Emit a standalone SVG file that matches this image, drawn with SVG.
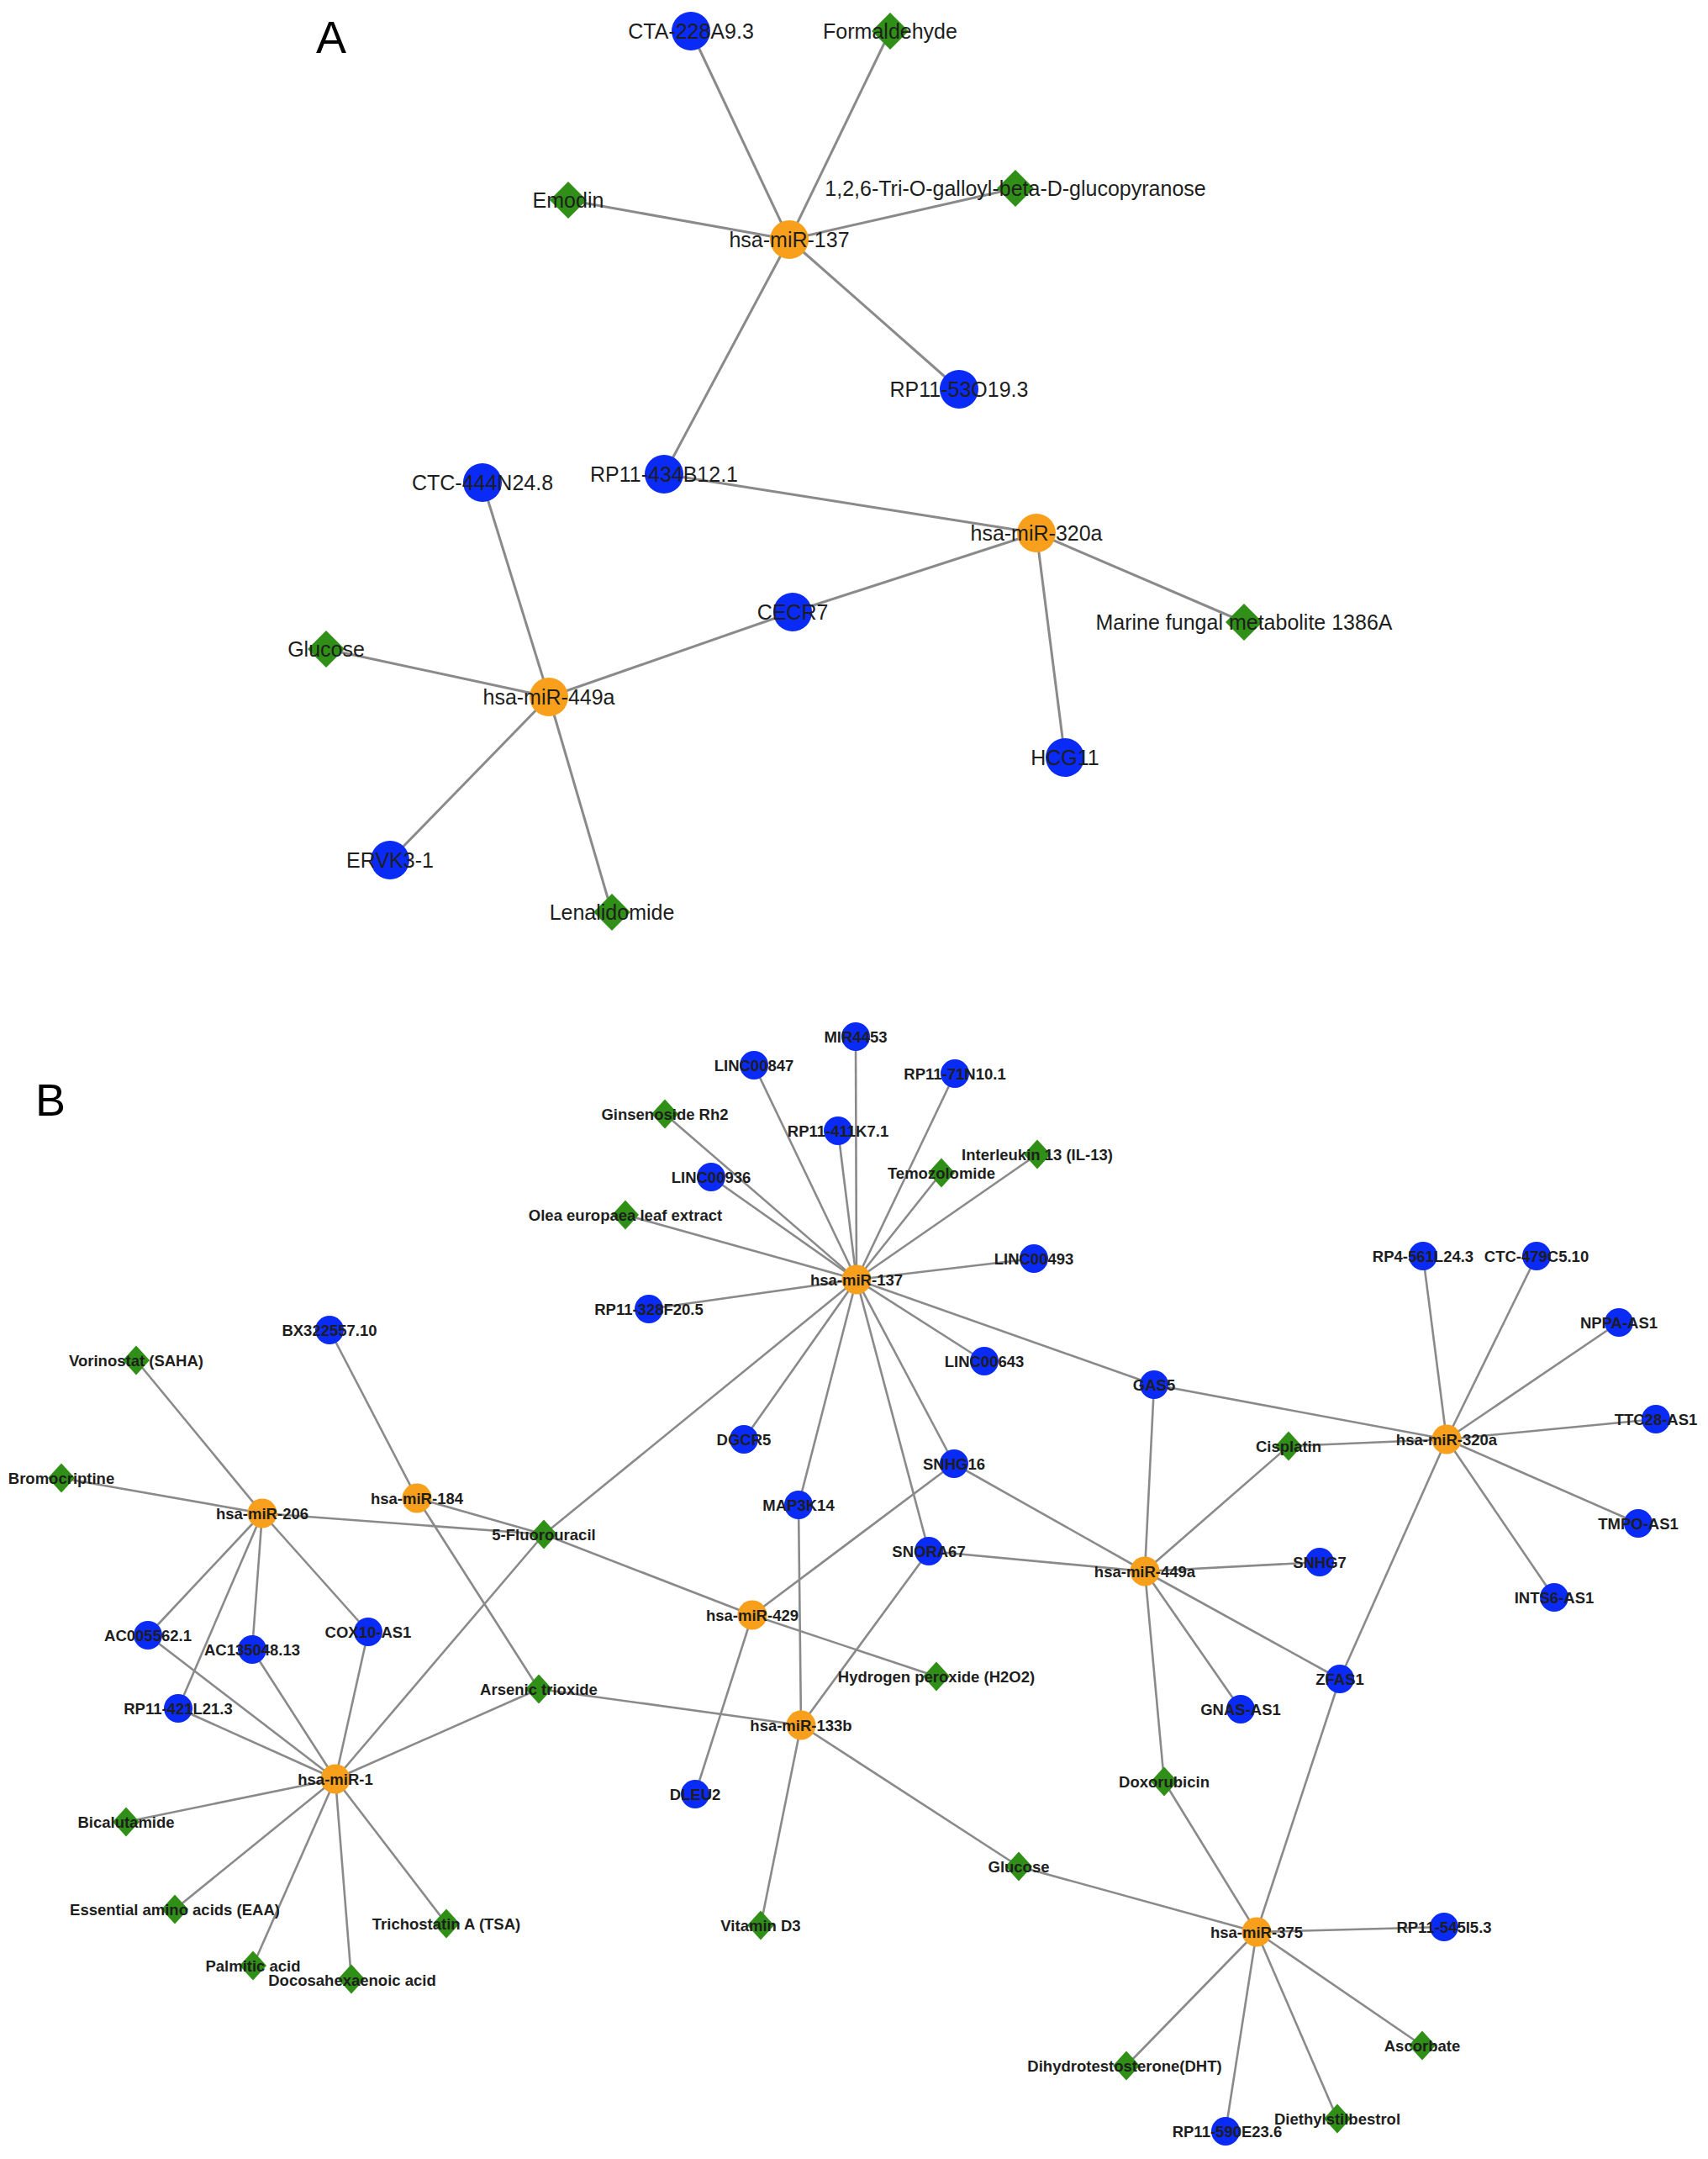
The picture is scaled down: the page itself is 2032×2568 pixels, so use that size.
<svg xmlns="http://www.w3.org/2000/svg" xmlns:xlink="http://www.w3.org/1999/xlink" width="2032" height="2568" viewBox="0 0 2032 2568">
<style>
.bg{fill:#ffffff}
.e{stroke:#8a8a8a;stroke-width:3;fill:none}
.eb{stroke:#8a8a8a;stroke-width:2.6;fill:none}
.lnc{fill:#0a2af5}
.mir{fill:#f8a01c}
.drug{fill:#2f8f17}
.ta{font-family:"Liberation Sans",Arial,sans-serif;font-size:25px;fill:#1e1e1e;text-anchor:middle;dominant-baseline:central}
.tb{font-family:"Liberation Sans",Arial,sans-serif;font-size:18.5px;font-weight:bold;fill:#1e1e1e;text-anchor:middle;dominant-baseline:central}
.panel{font-family:"Liberation Sans",Arial,sans-serif;font-size:54px;fill:#000}
</style>
<defs>
<path id="dA" d="M0,-22 L22,0 L0,22 L-22,0Z"/>
<path id="dB" d="M0,-17.5 L16,0 L0,17.5 L-16,0Z"/>
</defs>
<rect class="bg" x="0" y="0" width="2032" height="2568"/>
<text class="panel" x="376" y="63">A</text>
<text class="panel" x="42" y="1327">B</text>

<g id="connectors-A">
<line class="e" x1="939" y1="285" x2="822" y2="37"/>
<line class="e" x1="939" y1="285" x2="1059" y2="37"/>
<line class="e" x1="939" y1="285" x2="1208" y2="224"/>
<line class="e" x1="939" y1="285" x2="676" y2="238"/>
<line class="e" x1="939" y1="285" x2="1141" y2="463"/>
<line class="e" x1="939" y1="285" x2="790" y2="564"/>
<line class="e" x1="790" y1="564" x2="1233" y2="634"/>
<line class="e" x1="1233" y1="634" x2="943" y2="728"/>
<line class="e" x1="1233" y1="634" x2="1480" y2="740"/>
<line class="e" x1="1233" y1="634" x2="1267" y2="901"/>
<line class="e" x1="653" y1="829" x2="574" y2="574"/>
<line class="e" x1="653" y1="829" x2="388" y2="772"/>
<line class="e" x1="653" y1="829" x2="943" y2="728"/>
<line class="e" x1="653" y1="829" x2="464" y2="1023"/>
<line class="e" x1="653" y1="829" x2="728" y2="1085"/>
</g>

<g id="connectors-B">
<line class="eb" x1="1019" y1="1522" x2="1018" y2="1233"/>
<line class="eb" x1="1019" y1="1522" x2="897" y2="1267"/>
<line class="eb" x1="1019" y1="1522" x2="1136" y2="1277"/>
<line class="eb" x1="1019" y1="1522" x2="791" y2="1325"/>
<line class="eb" x1="1019" y1="1522" x2="997" y2="1345"/>
<line class="eb" x1="1019" y1="1522" x2="1234" y2="1373"/>
<line class="eb" x1="1019" y1="1522" x2="1120" y2="1395"/>
<line class="eb" x1="1019" y1="1522" x2="846" y2="1400"/>
<line class="eb" x1="1019" y1="1522" x2="744" y2="1445"/>
<line class="eb" x1="1019" y1="1522" x2="1230" y2="1497"/>
<line class="eb" x1="1019" y1="1522" x2="772" y2="1557"/>
<line class="eb" x1="1019" y1="1522" x2="1171" y2="1619"/>
<line class="eb" x1="1019" y1="1522" x2="1373" y2="1647"/>
<line class="eb" x1="1019" y1="1522" x2="885" y2="1712"/>
<line class="eb" x1="1019" y1="1522" x2="950" y2="1790"/>
<line class="eb" x1="1019" y1="1522" x2="1135" y2="1741"/>
<line class="eb" x1="1019" y1="1522" x2="1105" y2="1845"/>
<line class="eb" x1="1019" y1="1522" x2="647" y2="1825"/>
<line class="eb" x1="312" y1="1800" x2="162" y2="1618"/>
<line class="eb" x1="312" y1="1800" x2="73" y2="1758"/>
<line class="eb" x1="312" y1="1800" x2="647" y2="1825"/>
<line class="eb" x1="312" y1="1800" x2="176" y2="1945"/>
<line class="eb" x1="312" y1="1800" x2="300" y2="1962"/>
<line class="eb" x1="312" y1="1800" x2="212" y2="2032"/>
<line class="eb" x1="312" y1="1800" x2="438" y2="1941"/>
<line class="eb" x1="496" y1="1782" x2="392" y2="1582"/>
<line class="eb" x1="496" y1="1782" x2="647" y2="1825"/>
<line class="eb" x1="496" y1="1782" x2="641" y2="2009"/>
<line class="eb" x1="399" y1="2116" x2="176" y2="1945"/>
<line class="eb" x1="399" y1="2116" x2="300" y2="1962"/>
<line class="eb" x1="399" y1="2116" x2="438" y2="1941"/>
<line class="eb" x1="399" y1="2116" x2="212" y2="2032"/>
<line class="eb" x1="399" y1="2116" x2="647" y2="1825"/>
<line class="eb" x1="399" y1="2116" x2="641" y2="2009"/>
<line class="eb" x1="399" y1="2116" x2="150" y2="2167"/>
<line class="eb" x1="399" y1="2116" x2="208" y2="2271"/>
<line class="eb" x1="399" y1="2116" x2="301" y2="2338"/>
<line class="eb" x1="399" y1="2116" x2="418" y2="2354"/>
<line class="eb" x1="399" y1="2116" x2="531" y2="2288"/>
<line class="eb" x1="647" y1="1825" x2="895" y2="1921"/>
<line class="eb" x1="895" y1="1921" x2="1135" y2="1741"/>
<line class="eb" x1="895" y1="1921" x2="1114" y2="1994"/>
<line class="eb" x1="895" y1="1921" x2="827" y2="2134"/>
<line class="eb" x1="953" y1="2052" x2="950" y2="1790"/>
<line class="eb" x1="953" y1="2052" x2="1105" y2="1845"/>
<line class="eb" x1="953" y1="2052" x2="641" y2="2009"/>
<line class="eb" x1="953" y1="2052" x2="905" y2="2290"/>
<line class="eb" x1="953" y1="2052" x2="1212" y2="2220"/>
<line class="eb" x1="1212" y1="2220" x2="1495" y2="2298"/>
<line class="eb" x1="1362" y1="1869" x2="1373" y2="1647"/>
<line class="eb" x1="1362" y1="1869" x2="1533" y2="1720"/>
<line class="eb" x1="1362" y1="1869" x2="1135" y2="1741"/>
<line class="eb" x1="1362" y1="1869" x2="1105" y2="1845"/>
<line class="eb" x1="1362" y1="1869" x2="1570" y2="1858"/>
<line class="eb" x1="1362" y1="1869" x2="1594" y2="1997"/>
<line class="eb" x1="1362" y1="1869" x2="1476" y2="2033"/>
<line class="eb" x1="1362" y1="1869" x2="1385" y2="2119"/>
<line class="eb" x1="1721" y1="1712" x2="1373" y2="1647"/>
<line class="eb" x1="1721" y1="1712" x2="1533" y2="1720"/>
<line class="eb" x1="1721" y1="1712" x2="1693" y2="1494"/>
<line class="eb" x1="1721" y1="1712" x2="1828" y2="1494"/>
<line class="eb" x1="1721" y1="1712" x2="1926" y2="1573"/>
<line class="eb" x1="1721" y1="1712" x2="1970" y2="1688"/>
<line class="eb" x1="1721" y1="1712" x2="1949" y2="1812"/>
<line class="eb" x1="1721" y1="1712" x2="1849" y2="1900"/>
<line class="eb" x1="1721" y1="1712" x2="1594" y2="1997"/>
<line class="eb" x1="1495" y1="2298" x2="1594" y2="1997"/>
<line class="eb" x1="1495" y1="2298" x2="1385" y2="2119"/>
<line class="eb" x1="1495" y1="2298" x2="1718" y2="2292"/>
<line class="eb" x1="1495" y1="2298" x2="1692" y2="2433"/>
<line class="eb" x1="1495" y1="2298" x2="1340" y2="2457"/>
<line class="eb" x1="1495" y1="2298" x2="1458" y2="2535"/>
<line class="eb" x1="1495" y1="2298" x2="1591" y2="2520"/>
</g>

<g id="A-miR-137"><circle class="mir" cx="939" cy="285" r="23"/><text class="ta" x="939" y="285">hsa-miR-137</text></g>
<g id="A-CTA-228A9.3"><circle class="lnc" cx="822" cy="37" r="23"/><text class="ta" x="822" y="37">CTA-228A9.3</text></g>
<g id="A-Formaldehyde"><use xlink:href="#dA" class="drug" x="1059" y="37"/><text class="ta" x="1059" y="37">Formaldehyde</text></g>
<g id="A-TGG"><use xlink:href="#dA" class="drug" x="1208" y="224"/><text class="ta" x="1208" y="224">1,2,6-Tri-O-galloyl-beta-D-glucopyranose</text></g>
<g id="A-Emodin"><use xlink:href="#dA" class="drug" x="676" y="238"/><text class="ta" x="676" y="238">Emodin</text></g>
<g id="A-RP11-53O19.3"><circle class="lnc" cx="1141" cy="463" r="23"/><text class="ta" x="1141" y="463">RP11-53O19.3</text></g>
<g id="A-RP11-434B12.1"><circle class="lnc" cx="790" cy="564" r="23"/><text class="ta" x="790" y="564">RP11-434B12.1</text></g>
<g id="A-CTC-444N24.8"><circle class="lnc" cx="574" cy="574" r="23"/><text class="ta" x="574" y="574">CTC-444N24.8</text></g>
<g id="A-miR-320a"><circle class="mir" cx="1233" cy="634" r="23"/><text class="ta" x="1233" y="634">hsa-miR-320a</text></g>
<g id="A-CECR7"><circle class="lnc" cx="943" cy="728" r="23"/><text class="ta" x="943" y="728">CECR7</text></g>
<g id="A-Marine"><use xlink:href="#dA" class="drug" x="1480" y="740"/><text class="ta" x="1480" y="740">Marine fungal metabolite 1386A</text></g>
<g id="A-Glucose"><use xlink:href="#dA" class="drug" x="388" y="772"/><text class="ta" x="388" y="772">Glucose</text></g>
<g id="A-miR-449a"><circle class="mir" cx="653" cy="829" r="23"/><text class="ta" x="653" y="829">hsa-miR-449a</text></g>
<g id="A-HCG11"><circle class="lnc" cx="1267" cy="901" r="23"/><text class="ta" x="1267" y="901">HCG11</text></g>
<g id="A-ERVK3-1"><circle class="lnc" cx="464" cy="1023" r="23"/><text class="ta" x="464" y="1023">ERVK3-1</text></g>
<g id="A-Lenalidomide"><use xlink:href="#dA" class="drug" x="728" y="1085"/><text class="ta" x="728" y="1085">Lenalidomide</text></g>

<g id="B-MIR4453"><circle class="lnc" cx="1018" cy="1233" r="17"/><text class="tb" x="1018" y="1233">MIR4453</text></g>
<g id="B-LINC00847"><circle class="lnc" cx="897" cy="1267" r="17"/><text class="tb" x="897" y="1267">LINC00847</text></g>
<g id="B-RP11-71N10.1"><circle class="lnc" cx="1136" cy="1277" r="17"/><text class="tb" x="1136" y="1277">RP11-71N10.1</text></g>
<g id="B-Ginsenoside"><use xlink:href="#dB" class="drug" x="791" y="1325"/><text class="tb" x="791" y="1325">Ginsenoside Rh2</text></g>
<g id="B-RP11-411K7.1"><circle class="lnc" cx="997" cy="1345" r="17"/><text class="tb" x="997" y="1345">RP11-411K7.1</text></g>
<g id="B-IL13"><use xlink:href="#dB" class="drug" x="1234" y="1373"/><text class="tb" x="1234" y="1373">Interleukin 13 (IL-13)</text></g>
<g id="B-Temozolomide"><use xlink:href="#dB" class="drug" x="1120" y="1395"/><text class="tb" x="1120" y="1395">Temozolomide</text></g>
<g id="B-LINC00936"><circle class="lnc" cx="846" cy="1400" r="17"/><text class="tb" x="846" y="1400">LINC00936</text></g>
<g id="B-Olea"><use xlink:href="#dB" class="drug" x="744" y="1445"/><text class="tb" x="744" y="1445">Olea europaea leaf extract</text></g>
<g id="B-LINC00493"><circle class="lnc" cx="1230" cy="1497" r="17"/><text class="tb" x="1230" y="1497">LINC00493</text></g>
<g id="B-RP11-328F20.5"><circle class="lnc" cx="772" cy="1557" r="17"/><text class="tb" x="772" y="1557">RP11-328F20.5</text></g>
<g id="B-LINC00643"><circle class="lnc" cx="1171" cy="1619" r="17"/><text class="tb" x="1171" y="1619">LINC00643</text></g>
<g id="B-GAS5"><circle class="lnc" cx="1373" cy="1647" r="17"/><text class="tb" x="1373" y="1647">GAS5</text></g>
<g id="B-miR-137"><circle class="mir" cx="1019" cy="1522" r="17.5"/><text class="tb" x="1019" y="1522">hsa-miR-137</text></g>
<g id="B-BX322557.10"><circle class="lnc" cx="392" cy="1582" r="17"/><text class="tb" x="392" y="1582">BX322557.10</text></g>
<g id="B-Vorinostat"><use xlink:href="#dB" class="drug" x="162" y="1618"/><text class="tb" x="162" y="1618">Vorinostat (SAHA)</text></g>
<g id="B-Bromocriptine"><use xlink:href="#dB" class="drug" x="73" y="1758"/><text class="tb" x="73" y="1758">Bromocriptine</text></g>
<g id="B-miR-206"><circle class="mir" cx="312" cy="1800" r="17.5"/><text class="tb" x="312" y="1800">hsa-miR-206</text></g>
<g id="B-miR-184"><circle class="mir" cx="496" cy="1782" r="17.5"/><text class="tb" x="496" y="1782">hsa-miR-184</text></g>
<g id="B-5FU"><use xlink:href="#dB" class="drug" x="647" y="1825"/><text class="tb" x="647" y="1825">5-Fluorouracil</text></g>
<g id="B-AC005562.1"><circle class="lnc" cx="176" cy="1945" r="17"/><text class="tb" x="176" y="1945">AC005562.1</text></g>
<g id="B-AC135048.13"><circle class="lnc" cx="300" cy="1962" r="17"/><text class="tb" x="300" y="1962">AC135048.13</text></g>
<g id="B-COX10-AS1"><circle class="lnc" cx="438" cy="1941" r="17"/><text class="tb" x="438" y="1941">COX10-AS1</text></g>
<g id="B-RP11-421L21.3"><circle class="lnc" cx="212" cy="2032" r="17"/><text class="tb" x="212" y="2032">RP11-421L21.3</text></g>
<g id="B-Arsenic"><use xlink:href="#dB" class="drug" x="641" y="2009"/><text class="tb" x="641" y="2009">Arsenic trioxide</text></g>
<g id="B-miR-1"><circle class="mir" cx="399" cy="2116" r="17.5"/><text class="tb" x="399" y="2116">hsa-miR-1</text></g>
<g id="B-Bicalutamide"><use xlink:href="#dB" class="drug" x="150" y="2167"/><text class="tb" x="150" y="2167">Bicalutamide</text></g>
<g id="B-EAA"><use xlink:href="#dB" class="drug" x="208" y="2271"/><text class="tb" x="208" y="2271">Essential amino acids (EAA)</text></g>
<g id="B-TSA"><use xlink:href="#dB" class="drug" x="531" y="2288"/><text class="tb" x="531" y="2288">Trichostatin A (TSA)</text></g>
<g id="B-Palmitic"><use xlink:href="#dB" class="drug" x="301" y="2338"/><text class="tb" x="301" y="2338">Palmitic acid</text></g>
<g id="B-DHA"><use xlink:href="#dB" class="drug" x="418" y="2354"/><text class="tb" x="419" y="2355">Docosahexaenoic acid</text></g>
<g id="B-DGCR5"><circle class="lnc" cx="885" cy="1712" r="17"/><text class="tb" x="885" y="1712">DGCR5</text></g>
<g id="B-SNHG16"><circle class="lnc" cx="1135" cy="1741" r="17"/><text class="tb" x="1135" y="1741">SNHG16</text></g>
<g id="B-MAP3K14"><circle class="lnc" cx="950" cy="1790" r="17"/><text class="tb" x="950" y="1790">MAP3K14</text></g>
<g id="B-SNORA67"><circle class="lnc" cx="1105" cy="1845" r="17"/><text class="tb" x="1105" y="1845">SNORA67</text></g>
<g id="B-miR-429"><circle class="mir" cx="895" cy="1921" r="17.5"/><text class="tb" x="895" y="1921">hsa-miR-429</text></g>
<g id="B-H2O2"><use xlink:href="#dB" class="drug" x="1114" y="1994"/><text class="tb" x="1114" y="1994">Hydrogen peroxide (H2O2)</text></g>
<g id="B-miR-133b"><circle class="mir" cx="953" cy="2052" r="17.5"/><text class="tb" x="953" y="2052">hsa-miR-133b</text></g>
<g id="B-DLEU2"><circle class="lnc" cx="827" cy="2134" r="17"/><text class="tb" x="827" y="2134">DLEU2</text></g>
<g id="B-Glucose"><use xlink:href="#dB" class="drug" x="1212" y="2220"/><text class="tb" x="1212" y="2220">Glucose</text></g>
<g id="B-VitaminD3"><use xlink:href="#dB" class="drug" x="905" y="2290"/><text class="tb" x="905" y="2290">Vitamin D3</text></g>
<g id="B-Cisplatin"><use xlink:href="#dB" class="drug" x="1533" y="1720"/><text class="tb" x="1533" y="1720">Cisplatin</text></g>
<g id="B-miR-449a"><circle class="mir" cx="1362" cy="1869" r="17.5"/><text class="tb" x="1362" y="1869">hsa-miR-449a</text></g>
<g id="B-SNHG7"><circle class="lnc" cx="1570" cy="1858" r="17"/><text class="tb" x="1570" y="1858">SNHG7</text></g>
<g id="B-miR-320a"><circle class="mir" cx="1721" cy="1712" r="17.5"/><text class="tb" x="1721" y="1712">hsa-miR-320a</text></g>
<g id="B-RP4-561L24.3"><circle class="lnc" cx="1693" cy="1494" r="17"/><text class="tb" x="1693" y="1494">RP4-561L24.3</text></g>
<g id="B-CTC-479C5.10"><circle class="lnc" cx="1828" cy="1494" r="17"/><text class="tb" x="1828" y="1494">CTC-479C5.10</text></g>
<g id="B-NPPA-AS1"><circle class="lnc" cx="1926" cy="1573" r="17"/><text class="tb" x="1926" y="1573">NPPA-AS1</text></g>
<g id="B-TTC28-AS1"><circle class="lnc" cx="1970" cy="1688" r="17"/><text class="tb" x="1970" y="1688">TTC28-AS1</text></g>
<g id="B-TMPO-AS1"><circle class="lnc" cx="1949" cy="1812" r="17"/><text class="tb" x="1949" y="1812">TMPO-AS1</text></g>
<g id="B-INTS6-AS1"><circle class="lnc" cx="1849" cy="1900" r="17"/><text class="tb" x="1849" y="1900">INTS6-AS1</text></g>
<g id="B-ZFAS1"><circle class="lnc" cx="1594" cy="1997" r="17"/><text class="tb" x="1594" y="1997">ZFAS1</text></g>
<g id="B-GNAS-AS1"><circle class="lnc" cx="1476" cy="2033" r="17"/><text class="tb" x="1476" y="2033">GNAS-AS1</text></g>
<g id="B-Doxorubicin"><use xlink:href="#dB" class="drug" x="1385" y="2119"/><text class="tb" x="1385" y="2119">Doxorubicin</text></g>
<g id="B-miR-375"><circle class="mir" cx="1495" cy="2298" r="17.5"/><text class="tb" x="1495" y="2298">hsa-miR-375</text></g>
<g id="B-RP11-545I5.3"><circle class="lnc" cx="1718" cy="2292" r="17"/><text class="tb" x="1718" y="2292">RP11-545I5.3</text></g>
<g id="B-Ascorbate"><use xlink:href="#dB" class="drug" x="1692" y="2433"/><text class="tb" x="1692" y="2433">Ascorbate</text></g>
<g id="B-DHT"><use xlink:href="#dB" class="drug" x="1340" y="2457"/><text class="tb" x="1338" y="2457">Dihydrotestosterone(DHT)</text></g>
<g id="B-RP11-590E23.6"><circle class="lnc" cx="1458" cy="2535" r="17"/><text class="tb" x="1460" y="2535">RP11-590E23.6</text></g>
<g id="B-Diethylstilbestrol"><use xlink:href="#dB" class="drug" x="1591" y="2520"/><text class="tb" x="1591" y="2520">Diethylstilbestrol</text></g>
</svg>
